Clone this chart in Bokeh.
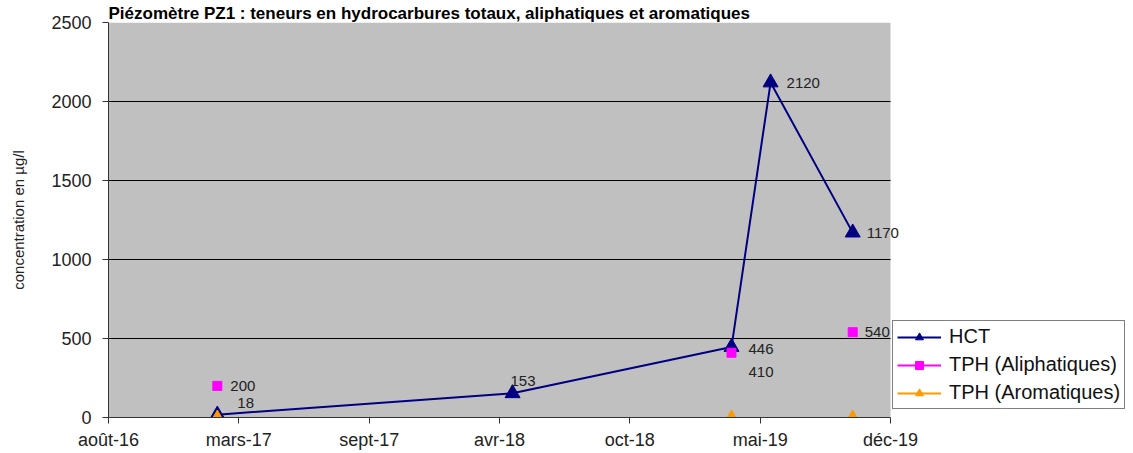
import numpy as np
import pandas as pd
from bokeh.plotting import figure
from bokeh.models import (Range1d, FixedTicker, Legend, LegendItem, LabelSet,
                          ColumnDataSource, BoxAnnotation)
from bokeh.core.properties import value
from bokeh.embed import file_html
from bokeh.resources import INLINE

# ---- data ----
title_text = "Piézomètre PZ1 : teneurs en hydrocarbures totaux, aliphatiques et aromatiques"
dates_hct = ["2017-02-03", "2018-05-02", "2019-04-03", "2019-06-02", "2019-10-06"]
hct = [18, 153, 446, 2120, 1170]
dates_tph = ["2017-02-03", "2019-04-03", "2019-10-06"]
tph_ali = [200, 410, 540]
tph_aro = [0, 0, 0]
tick_dates = ["2016-08-20", "2017-03-08", "2017-09-24", "2018-04-12",
              "2018-10-29", "2019-05-17", "2019-12-03"]
tick_labels = ["août-16", "mars-17", "sept-17", "avr-18", "oct-18", "mai-19", "déc-19"]
y_ticks = [0, 500, 1000, 1500, 2000, 2500]

FONT = "Liberation Sans"

x_hct = pd.to_datetime(dates_hct)
x_tph = pd.to_datetime(dates_tph)
tick_ms = [int(pd.Timestamp(d).value // 10**6) for d in tick_dates]
x_start = pd.Timestamp(tick_dates[0])
x_end = pd.Timestamp(tick_dates[-1])
# frame extends beyond the gray plot area so that labels/legend may overflow it
PLOT_W, FRAME_W = 782, 1025
x_view_end = x_start + (x_end - x_start) * (FRAME_W / PLOT_W)

p = figure(width=1133, height=453, output_backend="svg", toolbar_location=None,
           x_axis_type="datetime",
           x_range=Range1d(x_start, x_view_end),
           y_range=Range1d(0, 2500),
           min_border_left=108, min_border_right=0,
           min_border_top=22, min_border_bottom=36)
p.background_fill_color = "white"
p.border_fill_color = "white"
p.outline_line_color = None

p.title.text = title_text
p.title.text_font = FONT
p.title.text_font_size = "17px"
p.title.text_font_style = "bold"
p.title.text_color = "black"
p.title.align = "left"
p.title.standoff = 0
p.title.offset = 0

# gray plot area
p.add_layout(BoxAnnotation(left=x_start, right=x_end, fill_color="#C0C0C0",
                           fill_alpha=1, line_color=None, level="underlay"))
# horizontal grid lines within the plot area
grid_y = y_ticks[1:-1]
p.segment(x0=[x_start] * len(grid_y), y0=grid_y, x1=[x_end] * len(grid_y), y1=grid_y,
          line_color="black", line_width=1)

# axes
p.xaxis.ticker = FixedTicker(ticks=tick_ms)
p.xaxis.bounds = (x_start, x_end)
p.xaxis.major_label_overrides = {float(t): l for t, l in zip(tick_ms, tick_labels)}
p.yaxis.ticker = FixedTicker(ticks=y_ticks)
for ax in (p.xaxis, p.yaxis):
    ax.axis_line_color = "#333333"
    ax.axis_line_width = 1
    ax.major_tick_line_color = "#333333"
    ax.major_tick_in = 0
    ax.major_tick_out = 6
    ax.minor_tick_line_color = None
    ax.major_label_text_font = FONT
    ax.major_label_text_font_size = "18px"
    ax.major_label_text_color = "#222222"
p.xaxis.major_label_standoff = 6
p.yaxis.major_label_standoff = 11
p.yaxis.axis_label = "concentration en µg/l"
p.yaxis.axis_label_text_font = FONT
p.yaxis.axis_label_text_font_size = "15px"
p.yaxis.axis_label_text_font_style = "normal"
p.yaxis.axis_label_text_color = "#222222"
p.yaxis.axis_label_standoff = 21

p.xgrid.grid_line_color = None
p.ygrid.grid_line_color = None

# series
r_hct_line = p.line(x_hct, hct, line_color="#000080", line_width=2)
r_hct_pts = p.scatter(x_hct, hct, marker="triangle", size=15,
                      fill_color="#000080", line_color="#000080")
r_ali_line = p.line(x_tph, [np.nan] * len(tph_ali), line_color="#FF00FF", line_width=2)
r_ali_pts = p.scatter(x_tph, tph_ali, marker="square", size=9,
                      fill_color="#FF00FF", line_color="#FF00FF")
r_aro_line = p.line(x_tph, [np.nan] * len(tph_aro), line_color="#FF9900", line_width=2)
r_aro_pts = p.scatter(x_tph, tph_aro, marker="triangle", size=13,
                      fill_color="#FF9900", line_color="#FF9900")

# data labels
lab_x = list(x_hct) + list(x_tph)
lab_y = hct + tph_ali
lab_t = [str(v) for v in hct] + [str(v) for v in tph_ali]
lab_dx = [20, -2, 17, 16, 14, 13, 17, 12]
lab_dy = [12, 12, -2, 0, 0, 0, -19, 0]
lsrc = ColumnDataSource(dict(x=lab_x, y=lab_y, t=lab_t, dx=lab_dx, dy=lab_dy))
p.add_layout(LabelSet(x="x", y="y", text="t", source=lsrc, x_offset="dx", y_offset="dy",
                      text_font=value(FONT), text_font_size=value("15px"),
                      text_color="#222222",
                      text_baseline="middle", text_align="left"))

legend = Legend(items=[
    LegendItem(label="HCT", renderers=[r_hct_line, r_hct_pts]),
    LegendItem(label="TPH (Aliphatiques)", renderers=[r_ali_line, r_ali_pts]),
    LegendItem(label="TPH (Aromatiques)", renderers=[r_aro_line, r_aro_pts]),
], location=(784, 8))
legend.border_line_color = "black"
legend.border_line_width = 1
legend.background_fill_color = "white"
legend.background_fill_alpha = 1
legend.label_text_font = FONT
legend.label_text_font_size = "20px"
legend.label_text_color = "#111111"
legend.glyph_width = 44
legend.glyph_height = 20
legend.label_height = 20
legend.label_standoff = 8
legend.spacing = 5
legend.padding = 4
legend.margin = 0
p.add_layout(legend, "center")

open("out.html", "w").write(file_html(p, INLINE))
